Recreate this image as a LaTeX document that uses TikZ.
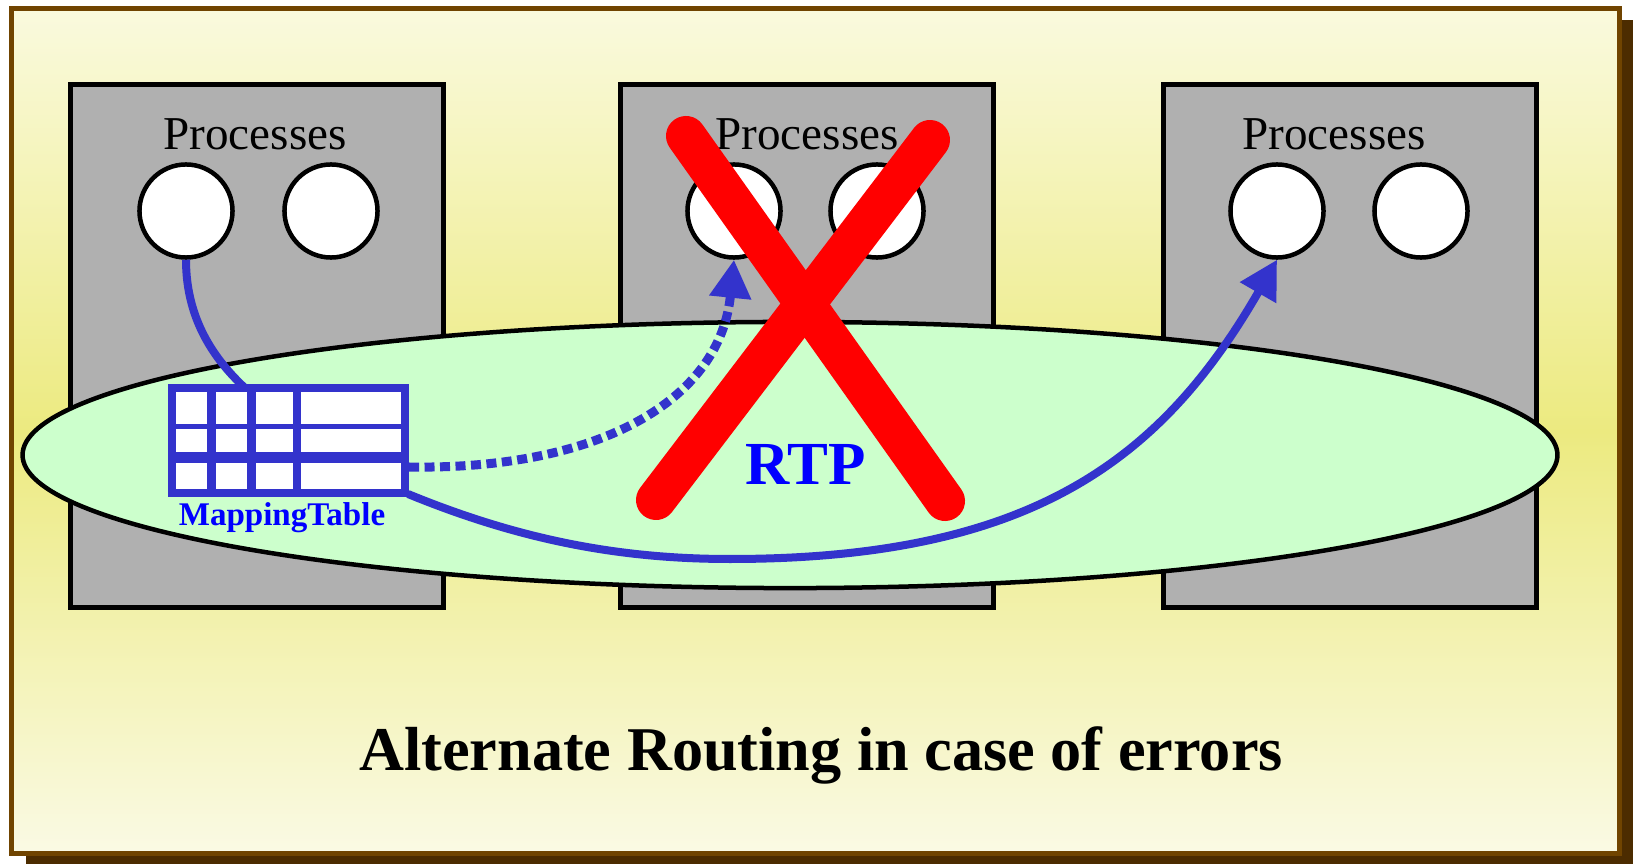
\documentclass[tikz,border=0pt]{standalone}
\usepackage{fontspec}
\setmainfont{Liberation Serif}
\usetikzlibrary{arrows.meta,positioning,shapes.geometric}

\definecolor{framebrown}{RGB}{112,68,0}
\definecolor{shadowbrown}{RGB}{76,44,0}
\definecolor{paperlight}{RGB}{250,250,222}
\definecolor{paperlow}{RGB}{250,250,228}
\definecolor{paperyellow}{RGB}{236,234,128}
\definecolor{hostgray}{RGB}{176,176,176}
\definecolor{rtpgreen}{RGB}{204,255,204}
\definecolor{routeblue}{RGB}{51,51,204}
\definecolor{labelblue}{RGB}{0,0,255}

\begin{document}
\begin{tikzpicture}[
    x=0.01cm, y=-0.01cm,
    >={Triangle[length=0.38cm, width=0.40cm]},
    host/.style={draw, fill=hostgray, line width=0.05cm, minimum width=3.72cm, minimum height=5.22cm, inner sep=0pt},
    proc/.style={draw, circle, fill=white, line width=0.045cm, minimum size=0.93cm, inner sep=0pt},
    hostlabel/.style={anchor=base, inner sep=0pt, font=\fontsize{13.4}{16}\selectfont},
    ring/.style={draw, ellipse, fill=rtpgreen, line width=0.045cm, minimum width=15.34cm, minimum height=2.66cm, inner sep=0pt},
    maptable/.style={draw=routeblue, fill=white, line width=0.08cm, minimum width=2.33cm, minimum height=1.05cm, inner sep=0pt},
    route/.style={draw=routeblue, line width=0.08cm},
    failmark/.style={draw=red, line width=0.40cm, line cap=round}
]
\useasboundingbox (0,0) rectangle (1633,864);

% Framed slide background with drop shadow.
\fill[shadowbrown] (26,20) rectangle (1633,864);
\shade[top color=paperlight, bottom color=paperlow, middle color=paperyellow] (11.5,8.5) rectangle (1619.5,853.5);
\draw[framebrown, line width=0.05cm] (11.5,8.5) rectangle (1619.5,853.5);

% Three hosts with their processes.
\node[host] (h1) at (257,346) {};
\node[host] (h2) at (807,346) {};
\node[host] (h3) at (1350,346) {};

\node[hostlabel] (l1) at (255,150) {Processes};
\node[hostlabel] (l2) at (807,150) {Processes};
\node[hostlabel] (l3) at (1334,150) {Processes};

\node[proc] (p11) at (186,211) {};
\node[proc] (p12) at (331,211) {};
\node[proc] (p21) at (734,211) {};
\node[proc] (p22) at (877,211) {};
\node[proc] (p31) at (1277,211) {};
\node[proc] (p32) at (1421,211) {};

% Runtime platform spanning all hosts.
\node[ring] (rtp) at (790,455) {};
\node[anchor=base, inner sep=0pt, text=labelblue, font=\bfseries\fontsize{17.4}{21}\selectfont] (rtplabel) at (806,485) {RTP};

% Mapping table.
\node[maptable] (map) at (288.5,440.5) {};
\draw[routeblue, line width=0.09cm] (211.5,388) -- (211.5,493) (251.5,388) -- (251.5,493);
\draw[routeblue, line width=0.08cm] (297,388) -- (297,493);
\draw[routeblue, line width=0.05cm] (172,426.5) -- (405,426.5);
\draw[routeblue, line width=0.10cm] (172,457.5) -- (405,457.5);
\node[anchor=base, inner sep=0pt, text=labelblue, font=\bfseries\fontsize{9.4}{11}\selectfont] (maplabel) at (282,525) {MappingTable};

\coordinate (tabtop) at (245,388);
\coordinate (tabdot) at (409,467);
\coordinate (tabsol) at (408,494);
\coordinate (low) at (730,559);

% Routes: original, failed and alternate.
\draw[route] (p11.south) .. controls (186,320) and (215,360) .. (tabtop);
\draw[route, line width=0.09cm, dash pattern=on 0.10cm off 0.055cm, ->] (tabdot) .. controls (600,470) and (720,400) .. (p21.south);
\draw[route, ->] (tabsol) .. controls (520,540) and (620,559) .. (low) .. controls (1030,559) and (1161,461) .. (p31.south);

% Failed host.
\draw[failmark] (686,136) -- (945,501);
\draw[failmark] (930,140) -- (656,500);

\node[anchor=base, inner sep=0pt, font=\bfseries\fontsize{17.7}{21}\selectfont] (title) at (821,770) {Alternate Routing in case of errors};

\end{tikzpicture}
\end{document}
